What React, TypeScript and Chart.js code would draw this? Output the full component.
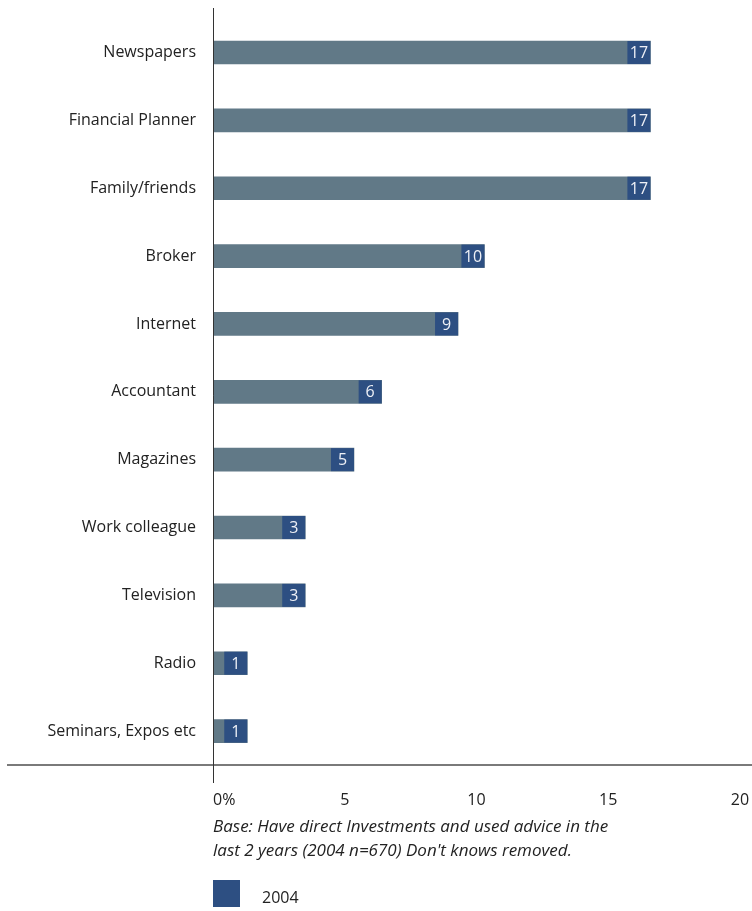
import React, { useEffect, useRef } from "react";
import { Chart, registerables } from "chart.js";

Chart.register(...registerables);

const categories = [
  "Newspapers",
  "Financial Planner",
  "Family/friends",
  "Broker",
  "Internet",
  "Accountant",
  "Magazines",
  "Work colleague",
  "Television",
  "Radio",
  "Seminars, Expos etc",
];
const values2004 = [16.6, 16.6, 16.6, 10.3, 9.3, 6.4, 5.35, 3.5, 3.5, 1.3, 1.3];
const valueLabels = ["17", "17", "17", "10", "9", "6", "5", "3", "3", "1", "1"];
const xTicks = [0, 5, 10, 15, 20];
const xTickLabels = ["0%", "5", "10", "15", "20"];
const noteLines = [
  "Base: Have direct Investments and used advice in the",
  "last 2 years (2004 n=670) Don't knows removed.",
];
const seriesName = "2004";

const GREY = "#617987";
const BLUE = "#2d4f82";
const TEXT = "#222222";
const FONT = "'Open Sans', sans-serif";

const overlayPlugin = {
  id: "overlay",
  afterDatasetsDraw(chart: any) {
    const ctx = chart.ctx;
    const meta = chart.getDatasetMeta(0);
    ctx.save();
    meta.data.forEach((bar: any, i: number) => {
      const end = bar.x;
      const h = bar.height;
      const top = bar.y - h / 2;
      const w = 23;
      ctx.fillStyle = BLUE;
      ctx.fillRect(end - w, top, w, h);
      ctx.fillStyle = "#eef0f6";
      ctx.font = `16px ${FONT}`;
      ctx.textAlign = "center";
      ctx.textBaseline = "middle";
      ctx.fillText(valueLabels[i], end - w / 2, bar.y + 1);
    });
    ctx.restore();
  },
  afterDraw(chart: any) {
    const ctx = chart.ctx;
    const xs = chart.scales.x;
    const area = chart.chartArea;
    const x0 = xs.getPixelForValue(0);
    ctx.save();
    // x axis line
    ctx.strokeStyle = "#7a7a7a";
    ctx.lineWidth = 2;
    ctx.beginPath();
    ctx.moveTo(7, area.bottom);
    ctx.lineTo(752, area.bottom);
    ctx.stroke();
    // y axis line
    ctx.strokeStyle = "#333333";
    ctx.lineWidth = 1;
    ctx.beginPath();
    ctx.moveTo(Math.round(x0) + 0.5, 8);
    ctx.lineTo(Math.round(x0) + 0.5, area.bottom + 18);
    ctx.stroke();
    // x tick labels
    ctx.fillStyle = TEXT;
    ctx.font = `16px ${FONT}`;
    ctx.textBaseline = "middle";
    xTicks.forEach((v, i) => {
      const px = xs.getPixelForValue(v);
      ctx.textAlign = i === 0 ? "left" : "center";
      ctx.fillText(xTickLabels[i], px, area.bottom + 35);
    });
    // note
    ctx.font = `italic 17px ${FONT}`;
    ctx.textAlign = "left";
    noteLines.forEach((line, i) => {
      ctx.fillText(line, x0, area.bottom + 62 + i * 24);
    });
    // legend
    ctx.fillStyle = BLUE;
    ctx.fillRect(x0, 880, 27, 27);
    ctx.fillStyle = TEXT;
    ctx.font = `16px ${FONT}`;
    ctx.fillText(seriesName, x0 + 49, 898);
    ctx.restore();
  },
};

export default function App() {
  const ref = useRef<HTMLCanvasElement>(null);
  useEffect(() => {
    if (!ref.current) return;
    const chart = new Chart(ref.current, {
      type: "bar",
      data: {
        labels: categories,
        datasets: [
          {
            label: seriesName,
            data: values2004,
            backgroundColor: GREY,
            barThickness: 23,
            borderWidth: 0,
          },
        ],
      },
      options: {
        indexAxis: "y",
        responsive: false,
        animation: false,
        devicePixelRatio: 1,
        layout: { padding: { top: 8, right: 12, bottom: 0, left: 0 } },
        plugins: {
          legend: { display: false },
          tooltip: { enabled: false },
        },
        scales: {
          x: {
            min: 0,
            max: 20,
            ticks: { display: false, stepSize: 5 },
            grid: { display: false },
            border: { display: false },
            afterFit: (s: any) => {
              s.height = 146;
            },
          },
          y: {
            ticks: {
              color: TEXT,
              font: { family: FONT, size: 16 },
              padding: 9,
            },
            grid: { display: false },
            border: { display: false },
            afterFit: (s: any) => {
              s.width = 213;
            },
          },
        },
      },
      plugins: [overlayPlugin],
    });
    return () => chart.destroy();
  }, []);
  return (
    <div style={{ position: "fixed", left: 0, top: 0, width: 752, height: 911, background: "#fff" }}>
      <canvas ref={ref} width={752} height={911} />
    </div>
  );
}
